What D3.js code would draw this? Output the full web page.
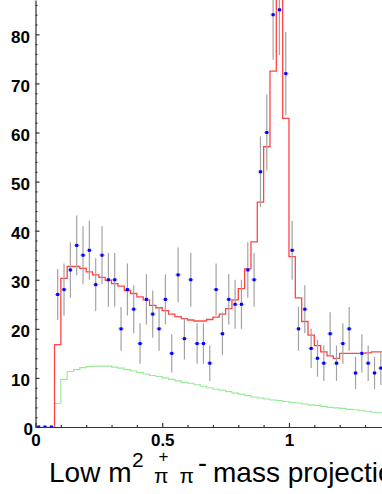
<!DOCTYPE html>
<html>
<head>
<meta charset="utf-8">
<script src="https://cdnjs.cloudflare.com/ajax/libs/d3/7.8.5/d3.min.js"></script>
<style>
body { margin: 0; background: #fff; }
svg { display: block; }
</style>
</head>
<body>
<div id="chart"></div>
<script>
// histogram binning
var binLow = 0,
    binWidth = 0.025;

// data counts per bin (points, errors are sqrt(N))
var dataCounts = [0, 0, 0, 27, 28, 32, 37, 35, 36, 29, 35, 30, 30,
    20, 28, 24, 17, 26, 23, 20, 26, 15, 31,
    18, 30, 17, 17, 13, 28, 19, 26, 25, 25,
    32, 30, 52, 60, 84, 85, 72, 36, 20, 24,
    16, 14, 13, 19, 13, 17, 20, 11, 15, 13,
    11, 12];

// total fit (red)
var fitValues = [0, 0, 0, 16.8, 30.3, 32.7, 32.7, 32.3, 31.6, 31.0, 30.5, 29.9, 29.2,
    28.7, 27.8, 27.2, 26.5, 25.9, 24.8, 24.3, 23.7, 23.0, 22.5,
    22.1, 21.8, 21.6, 21.6, 21.9, 22.4, 23.0, 24.1, 25.9, 28.2,
    32.2, 37.7, 45.8, 57.1, 72.5, 96, 62.9, 34.7, 26.3, 21.5,
    18.7, 16.6, 15.3, 14.5, 14.0, 15.0, 15.0, 15.0, 15.0, 15.1,
    15.3, 15.3];

// background component (green)
var bkgValues = [0, 0, 0, 4.8, 9.7, 11.3, 11.7, 12.1, 12.3, 12.4, 12.4, 12.4, 12.2,
    12.0, 11.7, 11.4, 11.1, 10.8, 10.5, 10.3, 10.0, 9.7, 9.4,
    9.1, 8.9, 8.6, 8.3, 8.0, 7.7, 7.5, 7.2, 6.9, 6.7,
    6.4, 6.1, 5.9, 5.7, 5.5, 5.4, 5.2, 5.0, 4.9, 4.7,
    4.5, 4.4, 4.2, 4.0, 3.9, 3.8, 3.6, 3.5, 3.3, 3.2,
    3.0, 2.9];

var xTicks = [0, 0.5, 1],
    xMinorTicks = [0.1, 0.2, 0.3, 0.4, 0.6, 0.7, 0.8, 0.9, 1.1, 1.2, 1.3],
    yTicks = [0, 10, 20, 30, 40, 50, 60, 70, 80];

var width = 382,
    height = 494;

var x = d3.scaleLinear().domain([0, 1.367]).range([35.5, 382]),
    y = d3.scaleLinear().domain([0, 87]).range([427, 0]);

var svg = d3.select("#chart").append("svg")
    .attr("width", width)
    .attr("height", height);

svg.append("defs").append("clipPath")
    .attr("id", "plot")
    .append("rect")
    .attr("x", 35).attr("y", 0)
    .attr("width", width - 35).attr("height", 428);

var plot = svg.append("g").attr("clip-path", "url(#plot)");

// step path through the bins, starting at the first filled bin
function stepPoints(values) {
    var pts = [],
        first = values.findIndex(function (v) { return v > 0; });
    pts.push([binLow + first * binWidth, 0]);
    for (var i = first; i < values.length; i++) {
        pts.push([binLow + i * binWidth, values[i]]);
        pts.push([binLow + (i + 1) * binWidth, values[i]]);
    }
    return pts;
}

var line = d3.line()
    .x(function (d) { return x(d[0]); })
    .y(function (d) { return y(d[1]); });

plot.append("path")
    .datum(stepPoints(bkgValues))
    .attr("fill", "none")
    .attr("stroke", "#94ec94")
    .attr("stroke-width", 1.1)
    .attr("d", line);

plot.append("path")
    .datum(stepPoints(fitValues))
    .attr("fill", "none")
    .attr("stroke", "#ff4545")
    .attr("stroke-width", 1.3)
    .attr("d", line);

// axes
var axisFont = "bold 17px 'Liberation Sans', Arial, sans-serif";

var yAxis = svg.append("g")
    .attr("transform", "translate(" + x(0) + ",0)")
    .call(d3.axisLeft(y).tickValues(yTicks).tickSize(-4).tickSizeOuter(0).tickPadding(5.5));

svg.append("g")
    .attr("transform", "translate(" + x(0) + ",0)")
    .call(d3.axisLeft(y).tickValues(d3.range(2, 87, 2).filter(function (v) { return v % 10; }))
        .tickSize(-2).tickSizeOuter(0).tickFormat(""))
    .call(function (g) { g.select(".domain").remove(); });

var xAxis = svg.append("g")
    .attr("transform", "translate(0," + y(0) + ")")
    .call(d3.axisBottom(x).tickValues(xTicks).tickSize(-4).tickSizeOuter(0).tickPadding(7)
        .tickFormat(function (d) { return d3.format("")(d); }));

svg.append("g")
    .attr("transform", "translate(0," + y(0) + ")")
    .call(d3.axisBottom(x).tickValues(xMinorTicks).tickSize(-2).tickSizeOuter(0).tickFormat(""))
    .call(function (g) { g.select(".domain").remove(); });

svg.selectAll(".domain, .tick line")
    .attr("stroke", "#333")
    .attr("stroke-width", 1.2);

svg.selectAll(".tick text")
    .style("font", axisFont)
    .attr("fill", "#000");

yAxis.selectAll(".tick text").attr("dy", "0.45em");
yAxis.selectAll(".tick text").filter(function (d) { return d === 0; }).attr("x", -2.5);

// data points with error bars
var pts = dataCounts.map(function (n, i) {
    return { x: binLow + (i + 0.5) * binWidth, n: n, err: Math.sqrt(n) };
});

var pg = plot.selectAll(".pt")
    .data(pts)
    .enter().append("g")
    .attr("class", "pt");

pg.filter(function (d) { return d.err > 0; })
    .append("line")
    .attr("x1", function (d) { return x(d.x); })
    .attr("x2", function (d) { return x(d.x); })
    .attr("y1", function (d) { return y(d.n - d.err); })
    .attr("y2", function (d) { return y(d.n + d.err); })
    .attr("stroke", "#a3a3a3")
    .attr("stroke-width", 1.2);

pg.append("line")
    .attr("x1", function (d) { return x(d.x) - 2.8; })
    .attr("x2", function (d) { return x(d.x) + 2.8; })
    .attr("y1", function (d) { return y(d.n); })
    .attr("y2", function (d) { return y(d.n); })
    .attr("stroke", "#9a9ad8")
    .attr("stroke-width", 1);

pg.append("rect")
    .attr("x", function (d) { return x(d.x) - 1.5; })
    .attr("y", function (d) { return y(d.n) - 1.5; })
    .attr("width", 3)
    .attr("height", 3)
    .attr("fill", "#0000ff");

// axis title (runs off the right edge, as in the original canvas)
var title = svg.append("text")
    .style("font-family", "'Liberation Sans', Arial, sans-serif")
    .attr("fill", "#000");

title.append("tspan").attr("x", 49).attr("y", 481.7).style("font-size", "28px").text("Low m");
title.append("tspan").attr("x", 132).attr("y", 466.5).style("font-size", "21px").text("2");
title.append("tspan").attr("x", 154).attr("y", 483).style("font-size", "21px").text("π");
title.append("tspan").attr("x", 158.5).attr("y", 462).style("font-size", "17px").text("+");
title.append("tspan").attr("x", 179.5).attr("y", 483).style("font-size", "21px").text("π");
title.append("tspan").attr("x", 198).attr("y", 472).style("font-size", "27px").text("-");
title.append("tspan").attr("x", 213).attr("y", 481.7).style("font-size", "28px").text("mass projection");
</script>
</body>
</html>
